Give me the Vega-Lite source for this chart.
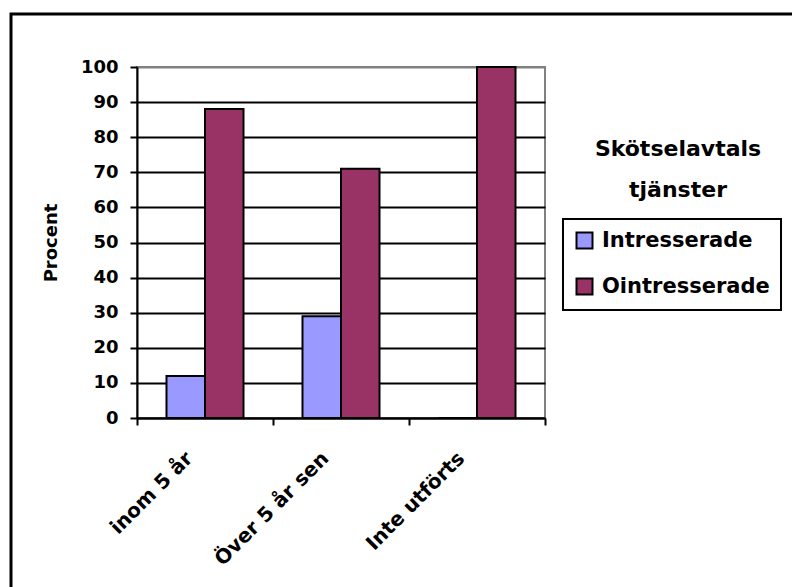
{
  "$schema": "https://vega.github.io/schema/vega-lite/v6.json",
  "width": 408,
  "height": 351,
  "autosize": {"type": "none"},
  "padding": {"left": 137, "top": 67, "right": 247, "bottom": 169},
  "background": "white",
  "data": {
    "values": [
      {"category": "inom 5 år", "series": "Intresserade", "value": 12},
      {"category": "inom 5 år", "series": "Ointresserade", "value": 88},
      {"category": "Över 5 år sen", "series": "Intresserade", "value": 29},
      {"category": "Över 5 år sen", "series": "Ointresserade", "value": 71},
      {"category": "Inte utförts", "series": "Intresserade", "value": 0},
      {"category": "Inte utförts", "series": "Ointresserade", "value": 100}
    ]
  },
  "config": {
    "font": "DejaVu Sans",
    "view": {"fill": "#C0C0C0", "stroke": "#808080", "strokeWidth": 2}
  },
  "layer": [
    {
      "mark": {"type": "bar", "stroke": "black", "strokeWidth": 2},
      "encoding": {
        "x": {
          "field": "category",
          "type": "nominal",
          "sort": ["inom 5 år", "Över 5 år sen", "Inte utförts"],
          "scale": {"paddingInner": 0, "paddingOuter": 0},
          "axis": {
            "title": null,
            "labelAngle": -45,
            "labelAlign": "right",
            "labelBaseline": "middle",
            "labelOffset": -16,
            "labelPadding": 30,
            "tickBand": "extent",
            "tickSize": 7,
            "tickWidth": 2,
            "tickColor": "black",
            "domainColor": "black",
            "domainWidth": 2,
            "labelFontSize": 20,
            "labelFontWeight": "bold",
            "labelColor": "black",
            "labelLimit": 300,
            "grid": false
          }
        },
        "xOffset": {
          "field": "series",
          "type": "nominal",
          "sort": ["Intresserade", "Ointresserade"],
          "scale": {"paddingInner": 0, "paddingOuter": 0.766}
        },
        "y": {
          "field": "value",
          "type": "quantitative",
          "scale": {"domain": [0, 100], "nice": false},
          "axis": {
            "title": "Procent",
            "titleFontSize": 18,
            "titleFontWeight": "bold",
            "titleColor": "black",
            "titlePadding": 20,
            "values": [0, 10, 20, 30, 40, 50, 60, 70, 80, 90, 100],
            "labelFontSize": 18,
            "labelFontWeight": "bold",
            "labelColor": "black",
            "labelPadding": 12,
            "tickSize": 7,
            "tickWidth": 2,
            "tickColor": "black",
            "domainColor": "black",
            "domainWidth": 2,
            "grid": true,
            "gridWidth": 2,
            "gridOpacity": 1,
            "gridColor": {"condition": {"test": "datum.value === 100", "value": "#808080"}, "value": "black"}
          }
        },
        "color": {
          "field": "series",
          "type": "nominal",
          "sort": ["Intresserade", "Ointresserade"],
          "scale": {"range": ["#9999FF", "#993366"]},
          "legend": {
            "title": null,
            "orient": "none",
            "legendX": 426,
            "legendY": 152,
            "strokeColor": "black",
            "padding": 11,
            "symbolType": "square",
            "symbolSize": 256,
            "symbolStrokeColor": "black",
            "symbolStrokeWidth": 2,
            "symbolOpacity": 1,
            "labelFontSize": 21,
            "labelFontWeight": "bold",
            "labelColor": "black",
            "labelOffset": 7,
            "labelLimit": 400,
            "rowPadding": 21,
            "encode": {"legend": {"update": {"strokeWidth": {"value": 2}}}}
          }
        }
      }
    },
    {
      "mark": {"type": "point", "size": 0, "opacity": 1},
      "encoding": {
        "stroke": {
          "field": "value",
          "type": "quantitative",
          "scale": {"range": ["rgba(0,0,0,0)", "rgba(0,0,0,0)"]},
          "legend": {
            "title": null,
            "orient": "none",
            "legendX": -126,
            "legendY": -53,
            "direction": "horizontal",
            "gradientLength": 900,
            "gradientThickness": 700,
            "gradientStrokeColor": "black",
            "gradientStrokeWidth": 3,
            "gradientOpacity": 1,
            "labels": false,
            "values": [],
            "padding": 0,
            "encode": {
              "gradient": {
                "update": {
                  "stroke": {"value": "black"},
                  "strokeWidth": {"value": 3},
                  "strokeOpacity": {"value": 1},
                  "opacity": {"value": 1}
                }
              }
            }
          }
        }
      }
    },
    {
      "mark": {"type": "point", "size": 0, "opacity": 0},
      "encoding": {
        "shape": {
          "field": "category",
          "type": "nominal",
          "legend": {
            "title": ["Skötselavtals", "tjänster"],
            "values": [],
            "orient": "none",
            "legendX": 458,
            "legendY": 72,
            "titleFontSize": 22,
            "titleFontWeight": "bold",
            "titleColor": "black",
            "titleAlign": "center",
            "titleAnchor": "start",
            "titleLineHeight": 41,
            "titleLimit": 400,
            "padding": 0
          }
        }
      }
    }
  ]
}
